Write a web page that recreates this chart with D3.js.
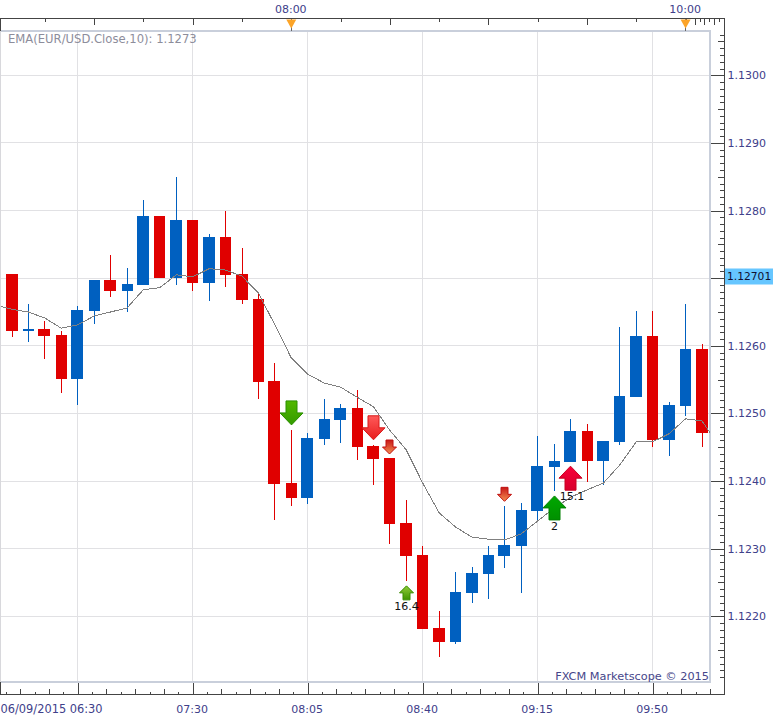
<!DOCTYPE html>
<html><head><meta charset="utf-8">
<script src="https://cdn.jsdelivr.net/npm/d3@7/dist/d3.min.js"></script>
<style>
html,body{margin:0;padding:0;background:#fff}
svg{display:block}
text{font-family:"DejaVu Sans",Verdana,sans-serif}
.tk path{display:none}
.tk line{stroke:#444;stroke-width:1;shape-rendering:crispEdges}
.lb path,.lb line{display:none}
.lb text{font-size:11px;fill:#40408a}
</style></head><body>
<svg id="c" width="782" height="720"></svg>
<script>
const opens=[1.12706,1.12622,1.12625,1.12616,1.12551,1.12651,1.12697,1.12681,1.12690,1.12792,1.12700,1.12786,1.12693,1.12761,1.12706,1.12669,1.12548,1.12397,1.12375,1.12462,1.12490,1.12508,1.12452,1.12434,1.12338,1.12291,1.12183,1.12162,1.12234,1.12263,1.12289,1.12304,1.12356,1.12421,1.12428,1.12474,1.12430,1.12458,1.12524,1.12615,1.12461,1.12511,1.12595];
const closes=[1.12622,1.12625,1.12615,1.12551,1.12653,1.12697,1.12681,1.12691,1.12792,1.12700,1.12786,1.12693,1.12761,1.12705,1.12668,1.12546,1.12396,1.12375,1.12464,1.12492,1.12508,1.12450,1.12433,1.12336,1.12289,1.12181,1.12162,1.12236,1.12264,1.12291,1.12305,1.12357,1.12422,1.12430,1.12474,1.12430,1.12459,1.12526,1.12615,1.12461,1.12512,1.12595,1.12471];
const highs=[1.12706,1.12662,1.12637,1.12622,1.12659,1.12697,1.12734,1.12715,1.12816,1.12792,1.12850,1.12786,1.12765,1.12799,1.12745,1.12680,1.12575,1.12475,1.12471,1.12521,1.12514,1.12535,1.12453,1.12434,1.12372,1.12304,1.12208,1.12265,1.12273,1.12304,1.12363,1.12368,1.12467,1.12455,1.12492,1.12484,1.12459,1.12628,1.12651,1.12651,1.12517,1.12662,1.12603];
const lows=[1.12613,1.12606,1.12580,1.12530,1.12512,1.12632,1.12672,1.12650,1.12690,1.12700,1.12690,1.12681,1.12666,1.12687,1.12662,1.12521,1.12342,1.12363,1.12366,1.12453,1.12456,1.12431,1.12394,1.12307,1.12252,1.12181,1.12140,1.12159,1.12220,1.12226,1.12271,1.12234,1.12341,1.12385,1.12428,1.12399,1.12394,1.12453,1.12524,1.12450,1.12437,1.12496,1.12450];
const emaIndex=d3.range(-1,44);
const emaValues=[1.12660,1.12654,1.12650,1.12641,1.12626,1.12631,1.12644,1.12650,1.12656,1.12683,1.12686,1.12705,1.12702,1.12714,1.12712,1.12703,1.12678,1.12631,1.12582,1.12558,1.12545,1.12539,1.12524,1.12510,1.12475,1.12446,1.12397,1.12353,1.12332,1.12317,1.12314,1.12313,1.12322,1.12341,1.12360,1.12376,1.12387,1.12397,1.12424,1.12458,1.12458,1.12470,1.12492,1.12489,1.12453];
const gridPrices=[1.122,1.123,1.124,1.125,1.126,1.127,1.128,1.129,1.130];
const priceLabels=[1.122,1.123,1.124,1.125,1.126,1.128,1.129,1.130];
const midPrices=[1.1215,1.1225,1.1235,1.1245,1.1255,1.1265,1.1275,1.1285,1.1295,1.1305];
const minorPrices=d3.range(11211,11307).map(v=>v/10000).filter(v=>Math.round(v*10000)%5!==0);
const timeIndex=[4,11,18,25,32,39];
const timeLabels=["06/09/2015 06:30","07:30","08:05","08:40","09:15","09:50"];
const bottomTicks=d3.range(-5,45);
const topLong=[5,11,17,23,29,35,41];
const topShort=[2,8,14,20,26,32,38];
const topTailLong=[41.55,42.15,42.75];
const topTailShort=[41.85,42.45,43.05];
const markerIndex=[17,41];
const markerLabels=["08:00","10:00"];
const lastPrice=1.12701;
const emaLabel="EMA(EUR/USD.Close,10): 1.1273";
const credit="FXCM Marketscope \u00A9 2015";
const arrowIndex=[17,22,23,30,24,33,34];
const arrowTip=[1.12483,1.12461,1.12440,1.12370,1.12245,1.12378,1.12422];
const arrowDir=["down","down","down","down","up","up","up"];
const arrowBig=[true,true,false,false,false,true,true];
const arrowTop=["#52b800","#ff5a5a","#c81818","#c81818","#90cc38","#00a800","#f80038"];
const arrowBottom=["#339a00","#e81c1c","#f49050","#f49050","#3f9400","#009000","#d8002c"];
const arrowEdge=["#2a9000","#d81818","#c01010","#c01010","#3a8c00","#008000","#c80020"];
const arrowLabels=["","","","","16.4","2","15.1"];

const L=1,R=710,T=31,B=682,AR=724.5,AT=18.5,AB=694.5;
const svg=d3.select("#c");
const x=d3.scaleLinear().domain([0,42]).range([12,702]);
const y=d3.scaleLinear().domain([1.13,1.122]).range([75.3,616.3]);
const defs=svg.append("defs");
defs.append("clipPath").attr("id","pc").append("rect").attr("x",L).attr("y",T).attr("width",R-L).attr("height",B-T);

// grid
const grid=svg.append("g").attr("stroke","#e1e1e4").attr("stroke-width",1).attr("shape-rendering","crispEdges");
grid.selectAll(".h").data(gridPrices).join("line").attr("x1",L).attr("x2",R).attr("y1",d=>y(d)).attr("y2",d=>y(d));
grid.selectAll(".v").data(timeIndex).join("line").attr("x1",d=>x(d)).attr("x2",d=>x(d)).attr("y1",T).attr("y2",B);

// plot frame
svg.append("path").attr("d",`M0.5,${T}H${R}V${B}H0.5`).attr("fill","none").attr("stroke","#c9cfdb").attr("stroke-width",2);
svg.append("line").attr("x1",0.5).attr("x2",0.5).attr("y1",T).attr("y2",B).attr("stroke","#d8d8dc").attr("stroke-width",1);

// axes
function axis(gen,tx,ty){return svg.append("g").attr("class","tk").attr("transform",`translate(${tx},${ty})`).call(gen);}
axis(d3.axisLeft(y).tickValues(gridPrices).tickSize(14).tickFormat(""),AR,0);
axis(d3.axisLeft(y).tickValues(midPrices).tickSize(7).tickFormat(""),AR,0);
axis(d3.axisLeft(y).tickValues(minorPrices).tickSize(5).tickFormat(""),AR,0);
const bx=k=>4+k*0.875;
axis(d3.axisTop(x).tickValues(bottomTicks.filter(k=>k%8===0).map(bx)).tickSize(12).tickFormat(""),0,AB);
axis(d3.axisTop(x).tickValues(bottomTicks.filter(k=>k%2===0&&k%8!==0).map(bx)).tickSize(6).tickFormat(""),0,AB);
axis(d3.axisTop(x).tickValues(bottomTicks.filter(k=>k%2!==0).map(bx)).tickSize(3).tickFormat(""),0,AB);
axis(d3.axisBottom(x).tickValues(topLong.concat(topTailLong)).tickSize(6).tickFormat(""),0,AT);
axis(d3.axisBottom(x).tickValues(topShort.concat(topTailShort)).tickSize(3).tickFormat(""),0,AT);
const frame=svg.append("g").attr("stroke","#444").attr("fill","none").attr("shape-rendering","crispEdges");
frame.append("path").attr("d",`M0.5,${T}V${AT}H${AR}V${AB}H0.5V${B}`);

// labels
svg.append("g").attr("class","lb").attr("transform",`translate(${AR},0)`).call(d3.axisRight(y).tickValues(priceLabels).tickSize(0).tickPadding(3).tickFormat(d3.format(".4f")));
const lbb=svg.append("g");
timeIndex.forEach((t,i)=>{
  lbb.append("text").attr("x",i===0?0.5:x(t)-0.5).attr("y",713).attr("text-anchor",i===0?"start":"middle")
    .attr("font-size",i===0?11.4:11).attr("fill","#40408a").text(timeLabels[i]);
});
markerIndex.forEach((t,i)=>{
  svg.append("text").attr("x",x(t)-0.5).attr("y",13).attr("text-anchor","middle").attr("font-size",11).attr("fill","#40408a").text(markerLabels[i]);
  svg.append("line").attr("x1",x(t)).attr("x2",x(t)).attr("y1",AT).attr("y2",T).attr("stroke","#666").attr("shape-rendering","crispEdges");
  const X=x(t);
  svg.append("path").attr("d",d3.line()([[X-5,AT+1],[X+5,AT+1],[X,AT+10]])+"Z").attr("fill","#fca428");
});
svg.append("text").attr("x",8).attr("y",43).attr("font-size",11.6).attr("fill","#8d8d9b").text(emaLabel);
svg.append("text").attr("x",709).attr("y",680).attr("text-anchor","end").attr("font-size",11.3).attr("fill","#46468a").text(credit);

// price tag
const tagY=y(lastPrice);
svg.append("rect").attr("x",725).attr("y",tagY-9).attr("width",48).attr("height",16).attr("fill","#66c6ff");
svg.append("text").attr("x",727).attr("y",tagY+3).attr("font-size",10.7).attr("fill","#101030").text(lastPrice.toFixed(5));

// candles
const plot=svg.append("g").attr("clip-path","url(#pc)").attr("shape-rendering","crispEdges");
const idx=d3.range(opens.length);
const col=i=>closes[i]>=opens[i]?"#0060c0":"#e00000";
plot.selectAll(".w").data(idx).join("rect").attr("x",i=>Math.floor(x(i))).attr("width",1)
  .attr("y",i=>y(highs[i])).attr("height",i=>y(lows[i])-y(highs[i])).attr("fill",col);
plot.selectAll(".b").data(idx).join("rect").attr("x",i=>Math.floor(x(i))-6+(i%2?1:0)).attr("width",i=>i%2?11:12)
  .attr("y",i=>y(Math.max(opens[i],closes[i]))).attr("height",i=>Math.max(2,Math.abs(y(opens[i])-y(closes[i])))).attr("fill",col);

// EMA
plot.append("path").attr("fill","none").attr("stroke","#808080").attr("stroke-width",1)
  .attr("d",d3.line().x((d,i)=>x(emaIndex[i])).y(d=>y(d))(emaValues));

// arrows
arrowIndex.forEach((t,i)=>{
  const g=defs.append("linearGradient").attr("id","ag"+i).attr("x1",0).attr("x2",0).attr("y1",0).attr("y2",1);
  g.append("stop").attr("offset",0).attr("stop-color",arrowTop[i]);
  g.append("stop").attr("offset",1).attr("stop-color",arrowBottom[i]);
  const X=Math.floor(x(t))+0.5,Y=y(arrowTip[i]),s=arrowDir[i]==="down"?-1:1;
  const hw=arrowBig[i]?11.5:7,sw=arrowBig[i]?5.5:3.5,hh=arrowBig[i]?12:7,len=arrowBig[i]?24:14;
  const pts=[[X,Y],[X+hw,Y+s*hh],[X+sw,Y+s*hh],[X+sw,Y+s*len],[X-sw,Y+s*len],[X-sw,Y+s*hh],[X-hw,Y+s*hh]];
  svg.append("path").attr("d",d3.line()(pts)+"Z").attr("fill",`url(#ag${i})`).attr("stroke",arrowEdge[i]).attr("stroke-width",1);
  if(arrowLabels[i]){
    const lx=arrowLabels[i]==="15.1"?X+1.5:X;
    svg.append("text").attr("x",lx).attr("y",Y+len+10).attr("text-anchor","middle").attr("font-size",11).attr("fill","#111").text(arrowLabels[i]);
  }
});
</script>
</body></html>
